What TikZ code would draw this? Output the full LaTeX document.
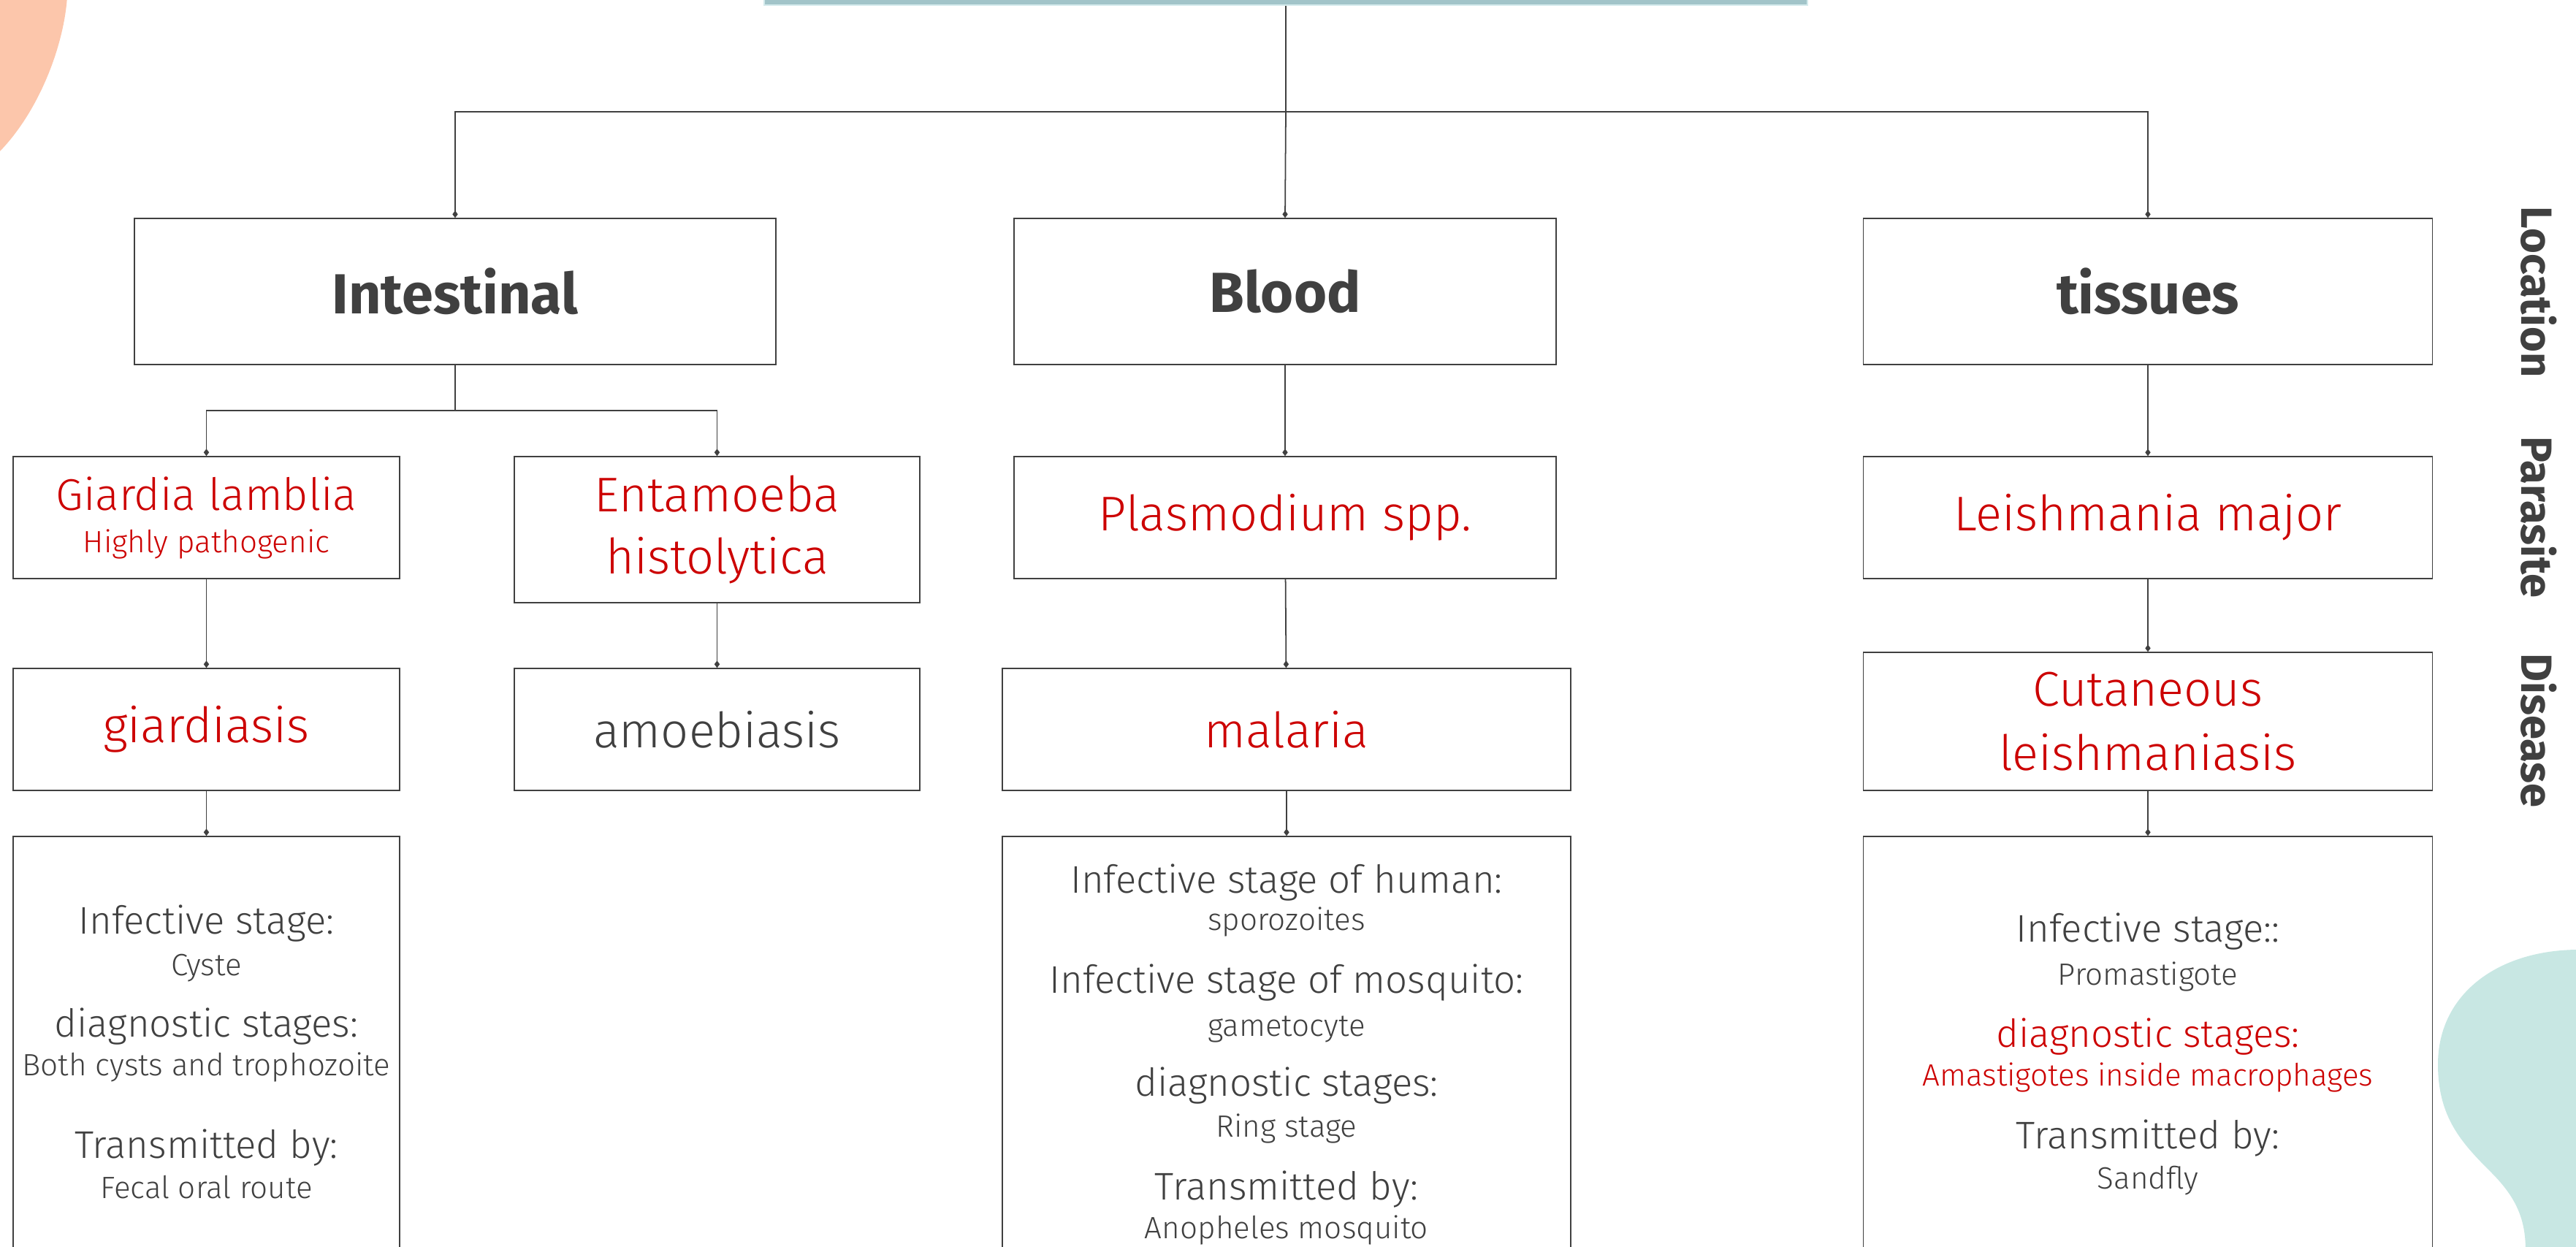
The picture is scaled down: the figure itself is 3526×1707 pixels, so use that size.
\documentclass[tikz,border=0pt]{standalone}
\usepackage{fontspec}
\IfFontExistsTF{Fira Sans Light}
  {\setmainfont{Fira Sans}[UprightFont=* Light,BoldFont=* Bold]}
  {\setmainfont{Fira Sans}}
\usetikzlibrary{arrows.meta,positioning,calc}
\usepackage{xcolor}
\definecolor{ink}{HTML}{404040}
\definecolor{redtxt}{HTML}{CC0000}
\definecolor{barteal}{HTML}{A2C4C9}
\definecolor{barlight}{HTML}{D4EAEC}
\definecolor{peach}{HTML}{FCC6AB}
\definecolor{blobteal}{HTML}{C8E7E3}
\newcommand\stagefont{\fontsize{15}{18}\selectfont\color{ink}}
\newcommand\valuefont{\fontsize{12}{14}\selectfont\color{ink}}
\newcommand\stagered{\fontsize{15}{18}\selectfont\color{redtxt}}
\newcommand\valuered{\fontsize{12}{14}\selectfont\color{redtxt}}
\tikzset{
  box/.style      = {rectangle, draw=ink, line width=0.45pt, inner sep=0pt,
                     align=center, text=ink},
  place/.style    = {box, minimum height=20mm,
                     font=\fontsize{22}{26}\selectfont\bfseries},
  parasite/.style = {box, minimum height=16.7mm, text=redtxt,
                     font=\fontsize{19}{22}\selectfont},
  infobox/.style  = {box, minimum height=60mm},
  side/.style     = {rotate=-90, text=ink, font=\fontsize{17}{20}\selectfont\bfseries},
  line/.style     = {anchor=base, inner sep=0pt},
  flow/.style     = {-{Diamond[length=2.8pt,width=2.1pt]}, draw=ink, line width=0.5pt},
  link/.style     = {draw=ink, line width=0.5pt},
}

\begin{document}
\begin{tikzpicture}[x=0.1mm,y=-0.1mm]
  \useasboundingbox (0,0) rectangle (3526,1707);
  \clip (0,0) rectangle (3526,1707);
  % background shapes
  \fill[peach] (0,-5) -- (92,-5) .. controls (88,60) and (55,150) .. (0,207) -- cycle;
  \fill[blobteal] (3530,1300) .. controls (3420,1300) and (3337,1360) .. (3337,1457)
    .. controls (3337,1530) and (3370,1565) .. (3410,1605)
    .. controls (3445,1640) and (3457,1670) .. (3457,1712) -- (3530,1712) -- cycle;
  % title bar (cut off at the top)
  \node[fill=barteal, draw=barlight, line width=0.6pt, minimum width=142.8mm,
        minimum height=10mm, inner sep=0pt] (root) at (1760,-43) {};
  % location
  \node[place, minimum width=87.8mm] (intest) at (623,399) {Intestinal};
  \node[place, minimum width=74.2mm] (blood) at (1759,399) {Blood};
  \node[place, minimum width=77.9mm] (tissue) at (2940,399) {tissues};
  % parasite
  \node[parasite, minimum width=52.9mm, font=\fontsize{17.3}{22}\selectfont] (giardia) at (282.5,708.5)
    {Giardia lamblia\\[-5.5pt]{\fontsize{12}{14}\selectfont Highly pathogenic}};
  \node[parasite, minimum width=55.5mm, minimum height=20mm] (entam) at (981.5,725)
    {Entamoeba\\[2pt]histolytica};
  \node[parasite, minimum width=74.2mm] (plasmo) at (1759,708.5) {Plasmodium spp.};
  \node[parasite, minimum width=77.9mm] (leish) at (2940,708.5) {Leishmania major};
  % disease
  \node[parasite, minimum width=52.9mm] (giardis) at (282.5,998.5) {giardiasis};
  \node[parasite, minimum width=55.5mm, text=ink] (amoeb) at (981.5,998.5) {amoebiasis};
  \node[parasite, minimum width=77.8mm] (malaria) at (1761,998.5) {malaria};
  \node[parasite, minimum width=77.9mm, minimum height=18.9mm] (cutan) at (2940,987.5)
    {Cutaneous\\[3pt]leishmaniasis};
  % stages
  \node[infobox, minimum width=52.9mm] (ginfo) at (282.5,1445) {};
  \node[infobox, minimum width=77.8mm] (minfo) at (1761,1445) {};
  \node[infobox, minimum width=77.9mm] (linfo) at (2940,1445) {};
  \foreach \y/\f/\t in {1278/\stagefont/Infective stage:, 1335/\valuefont/Cyste,
      1419/\stagefont/diagnostic stages:, 1472/\valuefont/Both cysts and trophozoite,
      1585/\stagefont/Transmitted by:, 1640/\valuefont/Fecal oral route}
    \node[line] (g\y) at (282.5,\y) {\f\t};
  \foreach \y/\f/\t in {1222/\stagefont/Infective stage of human:, 1273/\valuefont/sporozoites,
      1359/\stagefont/Infective stage of mosquito:, 1418/\valuefont/gametocyte,
      1500/\stagefont/diagnostic stages:, 1556/\valuefont/Ring stage,
      1642/\stagefont/Transmitted by:, 1695/\valuefont/Anopheles mosquito}
    \node[line] (m\y) at (1761,\y) {\f\t};
  \foreach \y/\f/\t in {1289/\stagefont/Infective stage::, 1348/\valuefont/Promastigote,
      1433/\stagered/diagnostic stages:, 1486/\valuered/Amastigotes inside macrophages,
      1572/\stagefont/Transmitted by:, 1627/\valuefont/Sandfly}
    \node[line] (l\y) at (2940,\y) {\f\t};
  % row labels
  \node[side] (lblloc) at (3475,400) {Location};
  \node[side] (lblpar) at (3475,708) {Parasite};
  \node[side] (lbldis) at (3475,1000) {Disease};
  % edges
  \coordinate (jtop) at (1760,153);
  \coordinate (jint) at (623,562);
  \draw[link] (root.south) -- (jtop);
  \draw[flow] (jtop) -| (intest.north);
  \draw[flow] (jtop) -- (blood.north);
  \draw[flow] (jtop) -| (tissue.north);
  \draw[link] (intest.south) -- (jint);
  \draw[flow] (jint) -| (giardia.north);
  \draw[flow] (jint) -| (entam.north);
  \draw[flow] (blood) -- (plasmo);
  \draw[flow] (tissue) -- (leish);
  \draw[flow] (giardia) -- (giardis);
  \draw[flow] (entam) -- (amoeb);
  \draw[flow] (plasmo) -- (malaria);
  \draw[flow] (leish) -- (cutan);
  \draw[flow] (giardis) -- (ginfo);
  \draw[flow] (malaria) -- (minfo);
  \draw[flow] (cutan) -- (linfo);
\end{tikzpicture}
\end{document}
